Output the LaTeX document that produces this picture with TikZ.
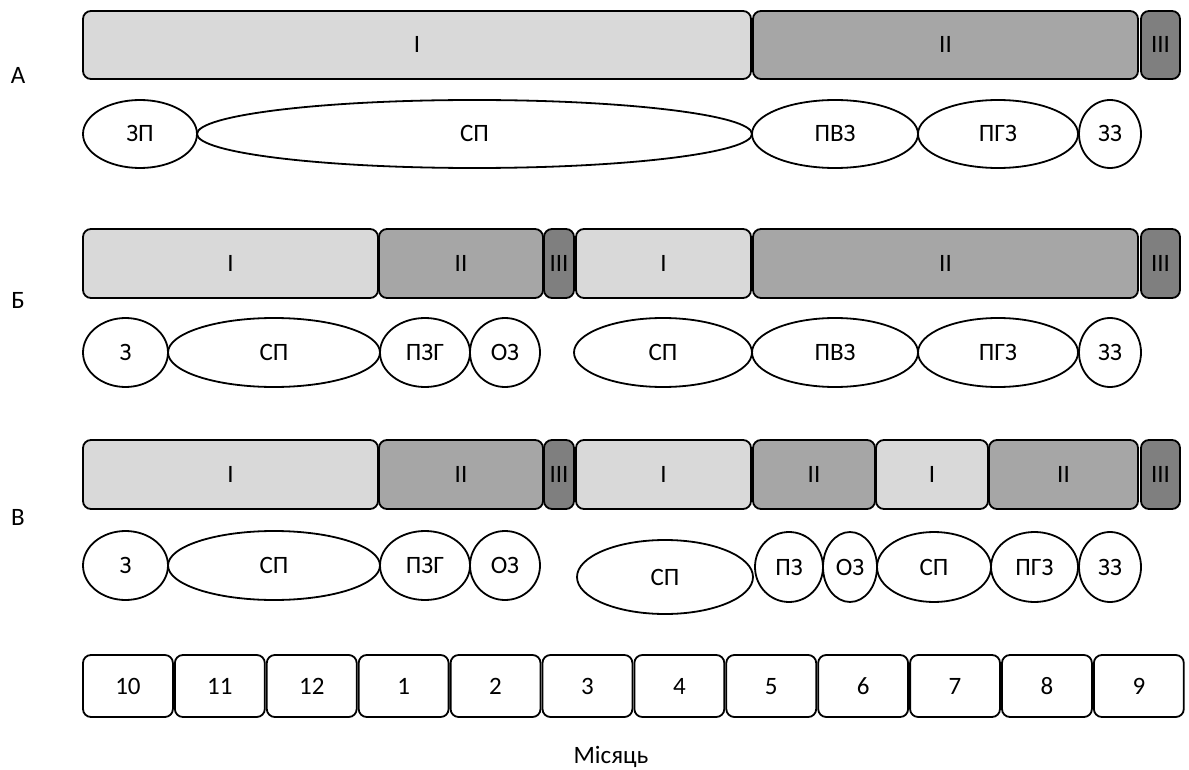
\documentclass[tikz,border=0pt]{standalone}
\usepackage{fontspec}
\setmainfont{Carlito}
\usetikzlibrary{shapes.geometric}
\definecolor{gI}{RGB}{217,217,217}
\definecolor{gII}{RGB}{166,166,166}
\definecolor{gIII}{RGB}{127,127,127}
\newcommand\blk[7]{\node[#6, minimum width={(#3)-(#2)}, minimum height={(#5)-(#4)}] (#1) at ({((#2)+(#3))/2},{((#4)+(#5))/2}) {#7};}
\begin{document}
\begin{tikzpicture}[x=1pt,y=-1pt,
  txt/.style={font=\fontsize{25}{27}\selectfont},
  ctr/.style={txt, text height=16pt, text depth=0pt},
  bx/.style={ctr, draw=black, line width=1.8pt, rounded corners=8pt, inner sep=0pt},
  pI/.style={bx, fill=gI},
  pII/.style={bx, fill=gII},
  pIII/.style={bx, fill=gIII},
  mo/.style={bx, fill=white},
  el/.style={ctr, ellipse, draw=black, line width=1.8pt, inner sep=0pt}]
\useasboundingbox (0,0) rectangle (1189,770);
% row labels
\node[ctr] (lA) at (18,76) {А};
\node[ctr] (lB) at (18,300) {Б};
\node[ctr] (lV) at (18,517) {В};
% Row A
\blk{aI}{83}{751}{11}{79}{pI}{I}
\blk{aII}{753}{1138}{11}{79}{pII}{II}
\blk{aIII}{1141}{1180}{11}{79}{pIII}{III}
\blk{aE1}{83}{197}{100}{168}{el}{ЗП}
\blk{aE2}{197}{752}{100}{168}{el}{СП}
\blk{aE3}{752}{918}{100}{168}{el}{ПВЗ}
\blk{aE4}{918}{1078}{100}{168}{el}{ПГЗ}
\blk{aE5}{1079}{1141}{100}{168}{el}{ЗЗ}
% Row B
\blk{bI}{83}{378}{229}{298}{pI}{I}
\blk{bII}{379}{543}{229}{298}{pII}{II}
\blk{bIII}{544}{574}{229}{298}{pIII}{III}
\blk{bIb}{576}{751}{229}{298}{pI}{I}
\blk{bIIb}{753}{1138}{229}{298}{pII}{II}
\blk{bIIIb}{1141}{1180}{229}{298}{pIII}{III}
\blk{bE1}{83}{168}{318}{387}{el}{З}
\blk{bE2}{168}{380}{318}{387}{el}{СП}
\blk{bE3}{380}{470}{318}{387}{el}{ПЗГ}
\blk{bE4}{470}{540}{318}{387}{el}{ОЗ}
\blk{bE5}{574}{752}{318}{387}{el}{СП}
\blk{bE6}{752}{918}{318}{387}{el}{ПВЗ}
\blk{bE7}{918}{1078}{318}{387}{el}{ПГЗ}
\blk{bE8}{1079}{1141}{318}{387}{el}{ЗЗ}
% Row V
\blk{vI}{83}{378}{440}{509}{pI}{I}
\blk{vII}{379}{543}{440}{509}{pII}{II}
\blk{vIII}{544}{574}{440}{509}{pIII}{III}
\blk{vIb}{576}{751}{440}{509}{pI}{I}
\blk{vIIb}{753}{875}{440}{509}{pII}{II}
\blk{vIc}{876}{988}{440}{509}{pI}{I}
\blk{vIIc}{989}{1138}{440}{509}{pII}{II}
\blk{vIIIb}{1141}{1180}{440}{509}{pIII}{III}
\blk{vE1}{83}{168}{531}{600}{el}{З}
\blk{vE2}{168}{380}{531}{600}{el}{СП}
\blk{vE3}{380}{470}{531}{600}{el}{ПЗГ}
\blk{vE4}{470}{540}{531}{600}{el}{ОЗ}
\blk{vE5}{577}{753}{540}{614}{el}{СП}
\blk{vE6}{755}{823}{532}{602}{el}{ПЗ}
\blk{vE7}{823}{877}{532}{602}{el}{ОЗ}
\blk{vE8}{877}{991}{532}{602}{el}{СП}
\blk{vE9}{991}{1078}{532}{602}{el}{ПГЗ}
\blk{vE10}{1079}{1141}{532}{602}{el}{ЗЗ}
% Months
\foreach \m [count=\i from 0] in {10,11,12,1,2,3,4,5,6,7,8,9}{
  \pgfmathsetmacro\xa{83+91.9*\i}
  \pgfmathsetmacro\xb{83+91.9*(\i+1)-2}
  \blk{m\m}{\xa}{\xb}{655}{717}{mo}{\m}
}
\node[txt] (month) at (611,757) {Місяць};
\end{tikzpicture}
\end{document}
